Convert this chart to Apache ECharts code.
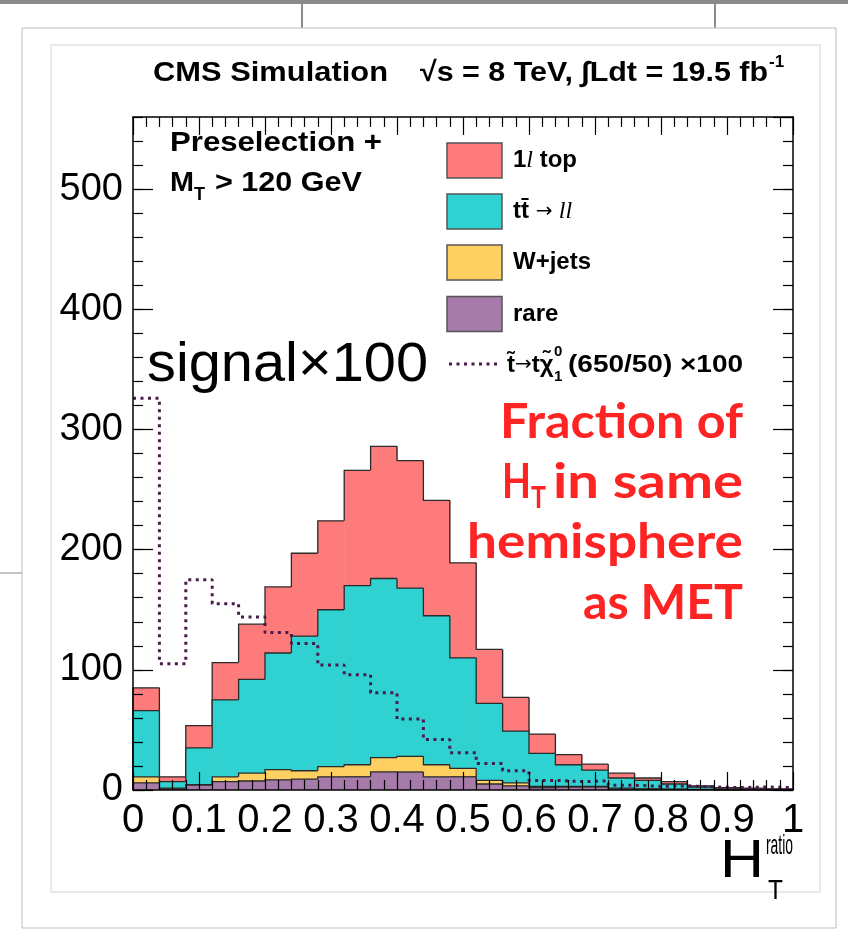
<!DOCTYPE html>
<html><head><meta charset="utf-8">
<script src="https://cdn.jsdelivr.net/npm/echarts@6/dist/echarts.min.js"></script>
<style>html,body{margin:0;padding:0;background:#fff}#c{width:848px;height:933px}</style>
</head><body><div id="c"></div><script>
// ---- data ----
const binLow = [0,0.04,0.08,0.12,0.16,0.2,0.24,0.28,0.32,0.36,0.4,0.44,0.48,0.52,0.56,0.6,0.64,0.68,0.72,0.76,0.8,0.84,0.88,0.92,0.96];
const binWidth = 0.04;
const rare  = [6,1,4,7,7.5,8.5,9,11,11,15,15,11,11,5,3.5,2,2.5,2.5,1,0.7,0.5,0.3,0.2,0.2,0.1];
const wjets = [5,0.5,0.5,4,6.5,8.5,7,8.5,10,12,13,10,7,3,2.5,1,0.5,0.5,0.5,0.3,0.3,0.2,0.1,0.1,0.1];
const ttll  = [55,5.5,30.5,64,78,97,112,130.5,149,149,140,124,92,64,43,27.5,18,13.5,8.5,7,4.2,2,0.7,0.4,0.3];
const top1l = [19,4,18.5,31,46,55,69,74,96,110,106,96,79,45,28,16,8.5,5,4,2,2,1,1,0.8,0.5];
const signal = [326,105,175,155,144,131,122,104,96,81,59,42,31,22,16,8,7,7.5,4,3,3.5,2.5,2,2.5,2];
const xTickLabels = ['0','0.1','0.2','0.3','0.4','0.5','0.6','0.7','0.8','0.9','1'];
const yTickLabels = ['0','100','200','300','400','500'];
const yMax = 560;

// ---- stacking ----
const cRare = rare.slice();
const cW = cRare.map((v,i)=>v+wjets[i]);
const cTT = cW.map((v,i)=>v+ttll[i]);
const cTop = cTT.map((v,i)=>v+top1l[i]);

const FONT = "'Liberation Sans', Arial, Helvetica, sans-serif";
const COL = {top:'#fe7b7b', tt:'#2fd1d1', w:'#fed062', rare:'#a67aa9', sig:'#4a1a4c'};

const mctx = document.createElement('canvas').getContext('2d');
function measure(t, font){ mctx.font = font; return mctx.measureText(t).width; }
function txt(str, x, y, font, opt){
  opt = opt || {};
  const sx = opt.w ? opt.w / measure(str, font) : 1;
  return {type:'text', x:x, y:y, scaleX:sx, z:100,
    style:{text:str, font:font, fill:opt.fill||'#000', align:opt.align||'left', verticalAlign:'middle',
      textAlign:opt.align||'left', textVerticalAlign:'middle'}};
}

function histSeries(name, cum, color, z){
  return {
    type:'custom', name:name, xAxisIndex:0, yAxisIndex:0, z:z, silent:true,
    data: binLow.map((x,i)=>[x, cum[i], i]),
    renderItem: function(params, api){
      const i = api.value(2), lo = api.value(0), hi = lo + binWidth, top = api.value(1);
      const prev = i > 0 ? cum[i-1] : 0;
      const a = api.coord([lo, 0]), b = api.coord([hi, top]);
      const pts = [api.coord([lo, prev]), api.coord([lo, top]), b];
      if (i === binLow.length - 1) pts.push(api.coord([hi, 0]));
      return {type:'group', children:[
        {type:'rect', shape:{x:a[0], y:b[1], width:b[0]-a[0]+0.6, height:a[1]-b[1]}, style:{fill:color}},
        {type:'polyline', shape:{points:pts}, style:{stroke:'#2a2a2a', lineWidth:1.3, fill:null}}
      ]};
    }
  };
}

const tickStyle = {color:'#000', width:1.2};
function xAx(pos, labels){
  return {type:'value', min:0, max:1, interval:0.1, position:pos, z:10,
    axisLine:{show:true, onZero:false, lineStyle:{color:'#000', width:1.5}},
    axisTick:{show:true, inside:true, length:18, lineStyle:tickStyle},
    minorTick:{show:true, splitNumber:5, length:10, lineStyle:tickStyle},
    axisLabel:{show:labels, margin:11, fontSize:40, fontFamily:FONT, color:'#000',
      formatter: v => xTickLabels[Math.round(v*10)]},
    splitLine:{show:false}, minorSplitLine:{show:false}};
}
function yAx(pos, major, labels){
  return {type:'value', min:0, max:yMax, interval:major?100:20, position:pos, z:10,
    axisLine:{show:major, onZero:false, lineStyle:{color:'#000', width:1.5}},
    axisTick:{show:true, inside:true, length:major?20:10, lineStyle:tickStyle},
    axisLabel:{show:labels, margin:10, fontSize:38, fontFamily:FONT, color:'#000', showMaxLabel:false,
      formatter: v => (v % 100 === 0 && yTickLabels[v/100] !== undefined) ? yTickLabels[v/100] : ''},
    splitLine:{show:false}};
}

// ---- texts / legend / decorations ----
const g = [];
g.push({type:'rect', shape:{x:0,y:0,width:848,height:4}, style:{fill:'#8a8a8a'}, z:0});
g.push({type:'line', shape:{x1:302,y1:4,x2:302,y2:28}, style:{stroke:'#666',lineWidth:1.5}, z:0});
g.push({type:'line', shape:{x1:715,y1:4,x2:715,y2:28}, style:{stroke:'#666',lineWidth:1.5}, z:0});
g.push({type:'rect', shape:{x:22,y:28,width:814,height:900}, style:{fill:null, stroke:'#bdbdbd', lineWidth:1}, z:0});
g.push({type:'rect', shape:{x:51,y:45,width:769,height:847}, style:{fill:null, stroke:'#e2e2e2', lineWidth:1.5}, z:0});
g.push({type:'line', shape:{x1:0,y1:573,x2:22,y2:573}, style:{stroke:'#888',lineWidth:1}, z:0});

// title
g.push(txt('CMS Simulation', 153, 73, "bold 28px "+FONT, {w:235}));
g.push(txt('\u221As = 8 TeV, \u222BLdt = 19.5 fb', 420, 73, "bold 28px "+FONT, {w:348}));
g.push(txt('-1', 769, 62, "bold 17px "+FONT));
// selection
g.push(txt('Preselection +', 170, 143, "bold 28px "+FONT, {w:212}));
g.push(txt('M', 170, 183, "bold 28px "+FONT, {w:24}));
g.push(txt('T', 194, 195, "bold 18px "+FONT));
g.push(txt('> 120 GeV', 215, 183, "bold 28px "+FONT, {w:147}));
// signal x100
g.push(txt('signal\u00D7100', 147, 366, "56px "+FONT, {w:281}));
// red annotation
const RF = "bold 47px Lato, 'Open Sans', sans-serif";
g.push(txt('Fraction of', 743, 423, RF, {w:243, align:'right', fill:'#ff2424'}));
g.push(txt('H', 502, 483, RF, {w:29, fill:'#ff2424'}));
g.push(txt('T', 531, 498, "bold 30px Lato, 'Open Sans', sans-serif", {w:15, fill:'#ff2424'}));
g.push(txt('in same', 743, 483, RF, {w:190, align:'right', fill:'#ff2424'}));
g.push(txt('hemisphere', 743, 543, RF, {w:276, align:'right', fill:'#ff2424'}));
g.push(txt('as MET', 743, 604, RF, {w:160, align:'right', fill:'#ff2424'}));
// axis title
g.push(txt('H', 720, 862, "54px "+FONT, {w:44}));
g.push(txt('ratio', 766, 846, "28px "+FONT, {w:27}));
g.push(txt('T', 768, 892, "27px "+FONT, {w:15}));

// legend
const ARROW = "20px 'DejaVu Sans', sans-serif";
const legRows = [
  {y:160.5, color:COL.top, rich:'{a|1}{b|l}{a| top}'},
  {y:211.5, color:COL.tt, rich:'{a|tt\u0304 }{c|\u2192 }{b|ll}'},
  {y:262.5, color:COL.w, rich:'{a|W+jets}'},
  {y:314, color:COL.rare, rich:'{a|rare}'}
];
const LF = "bold 24px "+FONT;
legRows.forEach(r => {
  g.push({type:'rect', z:100, shape:{x:447, y:r.y-17.5, width:55, height:35}, style:{fill:r.color, stroke:'#555', lineWidth:1.5}});
  g.push({type:'text', z:100, x:513, y:r.y, style:{text:r.rich, verticalAlign:'middle', textVerticalAlign:'middle', fill:'#000',
    rich:{a:{font:LF}, b:{font:"italic 24px 'Liberation Serif', serif"}, c:{font:ARROW}}}});
});
g.push({type:'line', z:100, shape:{x1:449, y1:364, x2:500, y2:364}, style:{stroke:COL.sig, lineWidth:3, lineDash:[3,4.5]}});
g.push({type:'text', z:100, x:507, y:365, style:{text:'{a|t\u0303}{c|\u2192}{a|t\u03C7\u0303}', verticalAlign:'middle', textVerticalAlign:'middle', fill:'#000',
  rich:{a:{font:"bold 24px "+FONT}, c:{font:ARROW}}}});
g.push(txt('0', 554, 352, "bold 15px "+FONT));
g.push(txt('1', 554, 377, "bold 15px "+FONT));
g.push(txt('(650/50) \u00D7100', 568, 365, "bold 24px "+FONT, {w:175}));

const option = {
  backgroundColor:'#fff',
  animation:false,
  grid:{left:133, right:55, top:117, bottom:143, containLabel:false},
  xAxis:[xAx('bottom', true), xAx('top', false)],
  yAxis:[yAx('left', true, true), yAx('left', false, false), yAx('right', true, false), yAx('right', false, false)],
  series:[
    histSeries('1l top', cTop, COL.top, 2),
    histSeries('tt -> ll', cTT, COL.tt, 3),
    histSeries('W+jets', cW, COL.w, 4),
    histSeries('rare', cRare, COL.rare, 5),
    {type:'line', name:'signal x100', xAxisIndex:0, yAxisIndex:0, z:6, silent:true, step:'end', symbol:'none',
     data: binLow.map((x,i)=>[x, signal[i]]).concat([[1, signal[signal.length-1]]]),
     lineStyle:{color:COL.sig, width:3, type:[3,4.5], cap:'butt'}}
  ],
  graphic: g
};
const chart = echarts.init(document.getElementById('c'));
chart.setOption(option);
</script></body></html>
